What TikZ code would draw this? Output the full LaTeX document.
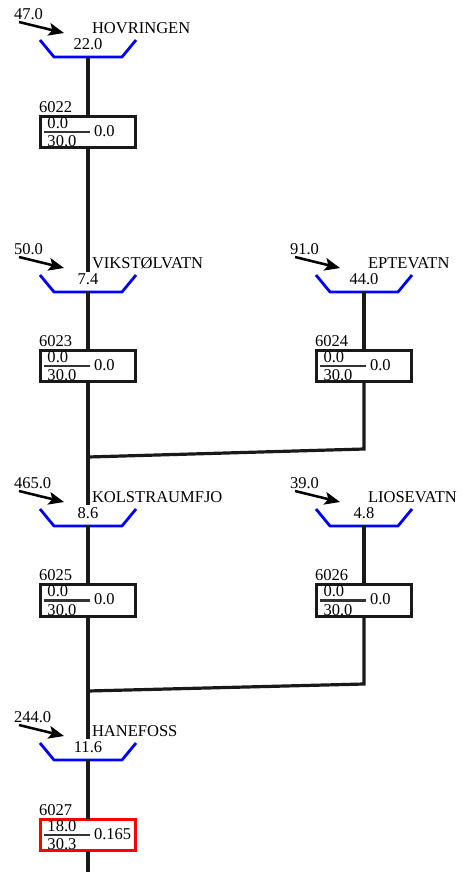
\documentclass[tikz,border=0pt]{standalone}
\usepackage{fontspec}
\setmainfont{Liberation Serif}
\usetikzlibrary{arrows,arrows.meta,positioning}

\begin{document}
\begin{tikzpicture}[x=.75pt,y=-.75pt,font=\fontsize{12.4}{13}\selectfont,inner sep=0pt,outer sep=0pt]
\tikzstyle{plant}=[draw=black!90,line width=2.2pt,minimum width=71.5pt,minimum height=23.5pt]
\tikzstyle{limit}=[draw=red,line width=2.2pt,minimum width=71.5pt,minimum height=23.5pt]
\tikzstyle{water}=[line width=2.1pt,line join=round,draw=blue]
\tikzstyle{pipe}=[line width=2.4pt,draw=black!90]
\tikzstyle{inflow}=[-{Stealth[length=11.5pt,width=9.5pt,inset=2.5pt]},line width=1.9pt,draw=black]

\useasboundingbox (0,0) rectangle (462,872);

% reservoirs: name, x of centre, y of floor, inflow, level, label
\foreach \n/\x/\y/\q/\v/\t in {hov/88/57/47.0/22.0/HOVRINGEN,
vik/88/292/50.0/7.4/VIKSTØLVATN,
ept/364/292/91.0/44.0/EPTEVATN,
kol/88/526/465.0/8.6/KOLSTRAUMFJO,
lio/364/526/39.0/4.8/LIOSEVATN,
han/88/760/244.0/11.6/HANEFOSS}
{
\coordinate (\n) at (\x,\y);
\draw[water] ([shift={(-48,-17)}]\n) -- ([shift={(-34,0)}]\n) -- ([shift={(34,0)}]\n) -- ([shift={(48,-17)}]\n);
\node (\n-level) at ([shift={(0,-13)}]\n) {\v};
\node[right] (\n-name) at ([shift={(4,-28.5)}]\n) {\t};
\node[right] (\n-q) at ([shift={(-74,-42.5)}]\n) {\q};
\coordinate (\n-a) at ([shift={(-69,-35)}]\n);
\coordinate (\n-b) at ([shift={(-24,-24)}]\n);
\draw[inflow] (\n-a) -- (\n-b);
}

% plants: name, x, y, number, upper, lower, right, style
\foreach \n/\x/\y/\k/\u/\l/\r/\s in {p22/88/132/6022/0.0/30.0/0.0/plant,
p23/88/366/6023/0.0/30.0/0.0/plant,
p24/364/366/6024/0.0/30.0/0.0/plant,
p25/88/600.5/6025/0.0/30.0/0.0/plant,
p26/364/600.5/6026/0.0/30.0/0.0/plant,
p27/88/835/6027/18.0/30.3/0.165/limit}
{
\node[\s] (\n) at (\x,\y) {};
\node[right] (\n-k) at ([shift={(-49,-25)}]\n.center) {\k};
\node[right] (\n-u) at ([shift={(-40.5,-9)}]\n.center) {\u};
\node[right] (\n-l) at ([shift={(-40.5,9.5)}]\n.center) {\l};
\node[right] (\n-r) at ([shift={(6,-1)}]\n.center) {\r};
\draw[line width=2pt,black!80] ([shift={(-44,0)}]\n.center) -- ([shift={(2,0)}]\n.center);
}

\coordinate (vik-top) at (88,272);
\coordinate (kol-top) at (88,505);
\coordinate (han-top) at (88,739);
\coordinate (j1) at (88,457);
\coordinate (k1) at (364,449);
\coordinate (j2) at (88,691);
\coordinate (k2) at (364,684);
\coordinate (end) at (88,872);

\draw[pipe] (hov) -- (p22);
\draw[pipe] (p22) -- (vik-top);
\draw[pipe] (vik) -- (p23);
\draw[pipe] (p23) -- (kol-top);
\draw[pipe] (ept) -- (p24);
\draw[pipe] (p24) -- (k1) -- (j1);
\draw[pipe] (kol) -- (p25);
\draw[pipe] (p25) -- (han-top);
\draw[pipe] (lio) -- (p26);
\draw[pipe] (p26) -- (k2) -- (j2);
\draw[pipe] (han) -- (p27);
\draw[pipe] (p27) -- (end);
\end{tikzpicture}
\end{document}
